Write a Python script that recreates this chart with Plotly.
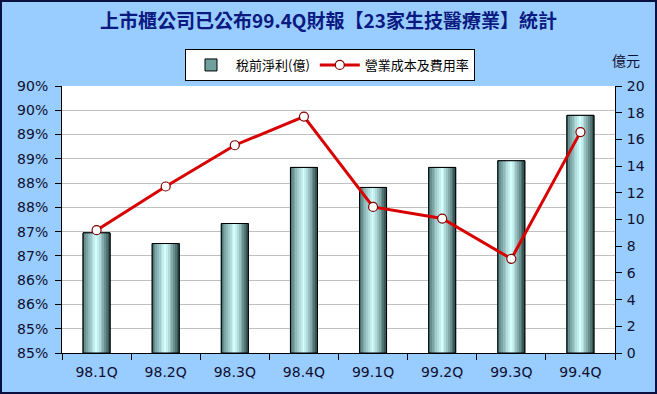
import plotly.graph_objects as go

# ---- data ----
quarters = ["98.1Q", "98.2Q", "98.3Q", "98.4Q", "99.1Q", "99.2Q", "99.3Q", "99.4Q"]
profit = [9.0, 8.2, 9.7, 13.9, 12.4, 13.9, 14.4, 17.8]          # 稅前淨利(億)
cost_ratio = [0.8753, 0.8843, 0.8928, 0.8987, 0.8801, 0.8777, 0.8694, 0.8955]  # 營業成本及費用率
pct_tickvals = [0.85 + 0.005 * i for i in range(12)]
pct_ticktext = ["85%", "85%", "86%", "86%", "87%", "87%", "88%", "88%", "89%", "89%", "90%", "90%"]
right_tickvals = list(range(0, 21, 2))

W, H = 657, 394
ML, MR, MT, MB = 62, 42, 86, 41
PW = W - ML - MR
PH = H - MT - MB

BAR_W = 0.39
CJK = "Noto Sans CJK TC"
TICKF = dict(family="DejaVu Sans", size=14, color="#101030")

fig = go.Figure()

# base bar (also provides legend symbol)
fig.add_trace(go.Bar(
    x=quarters, y=profit, name="稅前淨利(億)", width=BAR_W,
    marker=dict(color="#6f9f9f", line=dict(color="black", width=1)),
    yaxis="y", showlegend=True,
))

# gradient strips
def lerp(c1, c2, t):
    return "#%02x%02x%02x" % tuple(int(round(a + (b - a) * t)) for a, b in zip(c1, c2))

dark_l = (0x3e, 0x66, 0x66)
light = (0xd4, 0xff, 0xff)
dark_r = (0x2a, 0x48, 0x48)
N = 15
sw = BAR_W / N
for i in range(N):
    t = (i + 0.5) / N
    if t < 0.5:
        col = lerp(dark_l, light, (t / 0.5) ** 0.8)
    else:
        col = lerp(light, dark_r, ((t - 0.5) / 0.5) ** 1.2)
    fig.add_trace(go.Bar(
        x=quarters, y=profit, width=sw * 1.08, offset=-BAR_W / 2 + i * sw,
        marker=dict(color=col, line=dict(width=0)),
        yaxis="y", showlegend=False, hoverinfo="skip",
    ))

# outline on top
fig.add_trace(go.Bar(
    x=quarters, y=profit, width=BAR_W,
    marker=dict(color="rgba(0,0,0,0)", line=dict(color="black", width=1)),
    yaxis="y", showlegend=False, hoverinfo="skip",
))

# line
fig.add_trace(go.Scatter(
    x=quarters, y=cost_ratio, name="營業成本及費用率", mode="lines+markers",
    line=dict(color="#d80000", width=3),
    marker=dict(symbol="circle", size=9, color="white", line=dict(color="#800000", width=1.2)),
    yaxis="y2",
))

fig.update_layout(
    width=W, height=H,
    margin=dict(l=ML, r=MR, t=MT, b=MB, pad=0),
    paper_bgcolor="#99ccff", plot_bgcolor="white",
    barmode="overlay",
    title=dict(text="上市櫃公司已公布99.4Q財報【23家生技醫療業】統計",
               x=0.5, xanchor="center", y=1 - 21 / H, yanchor="middle",
               font=dict(family=CJK, size=19, color="#0a1a80", weight="bold")),
    xaxis=dict(type="category", showline=True, linecolor="black", linewidth=1,
               ticks="outside", tickson="boundaries", ticklen=6, tickcolor="black",
               tickfont=TICKF, showgrid=False, range=[-0.5, 7.5],
               ticklabelstandoff=6),
    yaxis=dict(side="right", range=[0, 20], tickvals=right_tickvals,
               showline=True, linecolor="black", linewidth=1,
               ticks="outside", ticklen=6, tickcolor="black",
               tickfont=TICKF, showgrid=False, zeroline=False,
               ticklabelstandoff=2),
    yaxis2=dict(overlaying="y", side="left", range=[0.85, 0.905],
                tickvals=pct_tickvals, ticktext=pct_ticktext,
                showline=True, linecolor="black", linewidth=1,
                ticks="outside", ticklen=6, tickcolor="black",
                tickfont=TICKF, showgrid=True, gridcolor="#c0c0c0", gridwidth=1,
                zeroline=False, ticklabelstandoff=4),
    legend=dict(orientation="h", x=(330 - ML) / PW, xanchor="center",
                y=(H - MB - 49) / PH, yanchor="top",
                bgcolor="white", bordercolor="black", borderwidth=1,
                font=dict(family=CJK, size=13, color="black"),
                traceorder="normal", itemwidth=40),
    annotations=[dict(text="億元", xref="paper", yref="paper",
                      x=(626 - ML) / PW, y=(H - MB - 60) / PH,
                      xanchor="center", yanchor="middle", showarrow=False,
                      font=dict(family=CJK, size=14, color="#101030"))],
    shapes=[dict(type="rect", xref="paper", yref="paper",
                 x0=-(ML - 1) / PW, x1=1 + (MR - 1) / PW,
                 y0=-(MB - 1) / PH, y1=1 + (MT - 1) / PH,
                 line=dict(color="#0a1040", width=2), layer="above")],
)

fig.write_html("out.html")
